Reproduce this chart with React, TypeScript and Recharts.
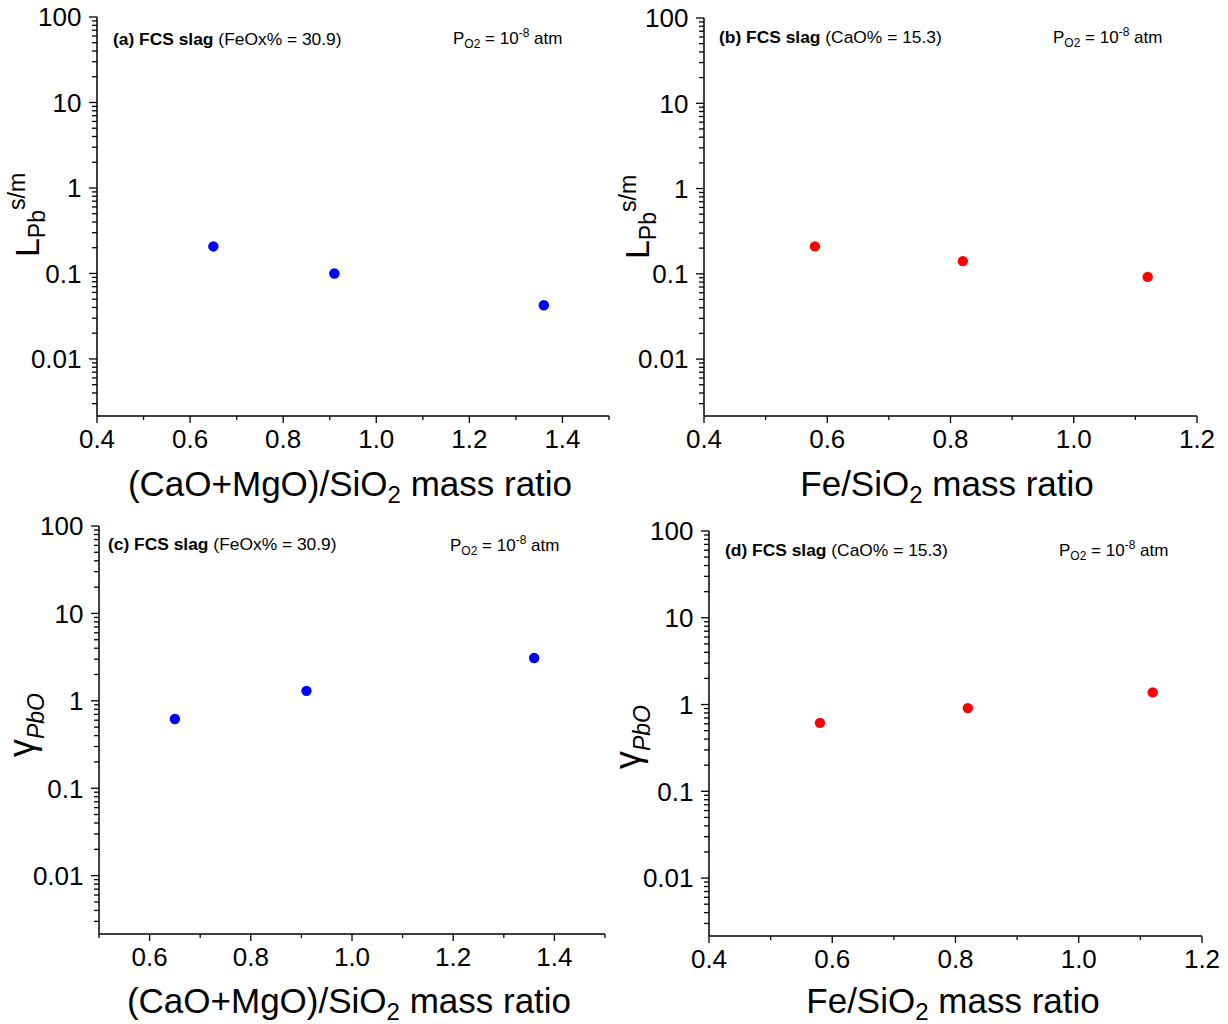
import { ScatterChart, Scatter, XAxis, YAxis } from 'recharts';

// (a) L_Pb vs (CaO+MgO)/SiO2
const basicityA = [0.65, 0.91, 1.36];
const partitionA = [0.207, 0.1, 0.0425];
// (b) L_Pb vs Fe/SiO2
const feRatioB = [0.58, 0.82, 1.12];
const partitionB = [0.21, 0.141, 0.092];
// (c) gamma PbO vs (CaO+MgO)/SiO2
const basicityC = [0.65, 0.91, 1.36];
const gammaC = [0.62, 1.3, 3.09];
// (d) gamma PbO vs Fe/SiO2
const feRatioD = [0.58, 0.82, 1.12];
const gammaD = [0.615, 0.91, 1.38];

const yMajorTicks = [0.01, 0.1, 1, 10, 100];
const yDecades = [0.001, 0.01, 0.1, 1, 10];
const yMinorSteps = [2, 3, 4, 5, 6, 7, 8, 9];
const yDomain: [number, number] = [0.00215, 100];

const xTicksWide = [0.4, 0.5, 0.6, 0.7, 0.8, 0.9, 1.0, 1.1, 1.2, 1.3, 1.4, 1.5];
const xMajorWide = [0.4, 0.6, 0.8, 1.0, 1.2, 1.4];
const xTicksShifted = [0.5, 0.6, 0.7, 0.8, 0.9, 1.0, 1.1, 1.2, 1.3, 1.4, 1.5];
const xMajorShifted = [0.6, 0.8, 1.0, 1.2, 1.4];
const xTicksFe = [0.4, 0.5, 0.6, 0.7, 0.8, 0.9, 1.0, 1.1, 1.2];
const xMajorFe = [0.4, 0.6, 0.8, 1.0, 1.2];

const FONT = '"Liberation Sans", Arial, Helvetica, sans-serif';

const yTicks = [
  ...yDecades.flatMap((d) => yMinorSteps.map((m) => +(d * m).toPrecision(3))),
  ...yMajorTicks,
]
  .filter((v) => v >= yDomain[0] && v <= yDomain[1])
  .sort((a, b) => a - b);

const isOneOf = (v: number, list: number[]) =>
  list.some((m) => Math.abs(v - m) < 1e-9 * Math.max(1, Math.abs(m)));

function YTick(props: any) {
  const { x, y, payload } = props;
  const v = payload.value;
  const major = isOneOf(v, yMajorTicks);
  return (
    <g>
      <line x1={x} x2={x - (major ? 8 : 5)} y1={y} y2={y} stroke="#000" strokeWidth={1.3} />
      {major && (
        <text x={x - 15.5} y={y} dy="0.36em" textAnchor="end" fontSize={26} fontFamily={FONT} fill="#000">
          {String(v)}
        </text>
      )}
    </g>
  );
}

function XTick(props: any) {
  const { x, y, payload, majors } = props;
  const v = payload.value;
  const major = isOneOf(v, majors);
  return (
    <g>
      <line x1={x} x2={x} y1={y} y2={y + (major ? 7 : 4)} stroke="#000" strokeWidth={1.3} />
      {major && (
        <text x={x} y={y + 32} textAnchor="middle" fontSize={26} fontFamily={FONT} fill="#000">
          {v.toFixed(1)}
        </text>
      )}
    </g>
  );
}

type Panel = {
  id: string;
  left: number;
  top: number;
  width: number;
  height: number;
  plot: { left: number; top: number; right: number; bottom: number };
  xs: number[];
  ys: number[];
  color: string;
  xDomain: [number, number];
  xTicks: number[];
  xMajor: number[];
};

const panels: Panel[] = [
  {
    id: 'a', left: 0, top: 0, width: 620, height: 510,
    plot: { left: 97, top: 17, right: 609, bottom: 416 },
    xs: basicityA, ys: partitionA, color: '#0000ff',
    xDomain: [0.4, 1.5], xTicks: xTicksWide, xMajor: xMajorWide,
  },
  {
    id: 'b', left: 610, top: 0, width: 618, height: 510,
    plot: { left: 704, top: 18, right: 1197, bottom: 416 },
    xs: feRatioB, ys: partitionB, color: '#ff0000',
    xDomain: [0.4, 1.2], xTicks: xTicksFe, xMajor: xMajorFe,
  },
  {
    id: 'c', left: 0, top: 510, width: 620, height: 514,
    plot: { left: 99, top: 526, right: 605, bottom: 934 },
    xs: basicityC, ys: gammaC, color: '#0000ff',
    xDomain: [0.5, 1.5], xTicks: xTicksShifted, xMajor: xMajorShifted,
  },
  {
    id: 'd', left: 610, top: 510, width: 618, height: 514,
    plot: { left: 709, top: 531, right: 1202, bottom: 936 },
    xs: feRatioD, ys: gammaD, color: '#ff0000',
    xDomain: [0.4, 1.2], xTicks: xTicksFe, xMajor: xMajorFe,
  },
];

function PanelChart({ p }: { p: Panel }) {
  const data = p.xs.map((x, i) => ({ x, y: p.ys[i] }));
  const yAxisWidth = p.plot.left - p.left;
  const marginTop = p.plot.top - p.top;
  const marginRight = p.left + p.width - p.plot.right;
  const xAxisHeight = p.top + p.height - p.plot.bottom;
  const axisLine = { stroke: '#000', strokeWidth: 1.5 };
  return (
    <div style={{ position: 'absolute', left: p.left, top: p.top, width: p.width, height: p.height }}>
      <ScatterChart
        width={p.width}
        height={p.height}
        margin={{ top: marginTop, right: marginRight, bottom: 0, left: 0 }}
      >
        <XAxis
          xAxisId="main"
          type="number"
          dataKey="x"
          domain={p.xDomain}
          allowDataOverflow
          ticks={p.xTicks}
          interval={0}
          height={xAxisHeight}
          tickLine={false}
          tickSize={0}
          tickMargin={0}
          axisLine={axisLine}
          tick={(tp: any) => <XTick {...tp} majors={p.xMajor} />}
        />
        <XAxis
          xAxisId="frame"
          orientation="top"
          type="number"
          domain={p.xDomain}
          allowDataOverflow
          height={0}
          tick={false}
          tickLine={false}
          axisLine={axisLine}
        />
        <YAxis
          yAxisId="main"
          type="number"
          dataKey="y"
          scale="log"
          domain={yDomain}
          allowDataOverflow
          ticks={yTicks}
          interval={0}
          width={yAxisWidth}
          tickLine={false}
          tickSize={0}
          tickMargin={0}
          axisLine={axisLine}
          tick={(tp: any) => <YTick {...tp} />}
        />
        <YAxis
          yAxisId="frame"
          orientation="right"
          type="number"
          scale="log"
          domain={yDomain}
          allowDataOverflow
          width={0}
          tick={false}
          tickLine={false}
          axisLine={axisLine}
        />
        <Scatter
          xAxisId="main"
          yAxisId="main"
          data={data}
          isAnimationActive={false}
          shape={(sp: any) => <circle cx={sp.cx} cy={sp.cy} r={5.2} fill={p.color} />}
        />
      </ScatterChart>
    </div>
  );
}

function Annotation({ x, y, tag, rest }: { x: number; y: number; tag: string; rest: string }) {
  return (
    <text x={x} y={y} fontSize={17.4} fontFamily={FONT} fill="#000">
      <tspan fontWeight="bold">{tag}</tspan>
      <tspan> {rest}</tspan>
    </text>
  );
}

function Oxygen({ x, y }: { x: number; y: number }) {
  return (
    <text x={x} y={y} fontSize={17} fontFamily={FONT} fill="#000">
      P
      <tspan fontSize={12} dy={4}>O2</tspan>
      <tspan dy={-4}> = 10</tspan>
      <tspan fontSize={12} dy={-7}>-8</tspan>
      <tspan dy={7}> atm</tspan>
    </text>
  );
}

function XTitle({ x, y, lead }: { x: number; y: number; lead: string }) {
  return (
    <text x={x} y={y} textAnchor="middle" fontSize={35} fontFamily={FONT} fill="#000">
      {lead}
      <tspan fontSize={24} dy={7}>2</tspan>
      <tspan dy={-7}> mass ratio</tspan>
    </text>
  );
}

function LTitle({ x, y }: { x: number; y: number }) {
  return (
    <text x={x} y={y} transform={`rotate(-90, ${x}, ${y})`} textAnchor="middle" fontSize={34} fontFamily={FONT} fill="#000">
      L
      <tspan fontSize={23} dy={6.5}>Pb</tspan>
      <tspan fontSize={23} dy={-20}>s/m</tspan>
    </text>
  );
}

function GammaTitle({ x, y }: { x: number; y: number }) {
  return (
    <text x={x} y={y} transform={`rotate(-90, ${x}, ${y})`} textAnchor="middle" fontSize={36} fontFamily={FONT} fill="#000">
      γ
      <tspan fontSize={23} fontStyle="italic" dy={10}>PbO</tspan>
    </text>
  );
}

export default function App() {
  return (
    <div style={{ position: 'absolute', left: 0, top: 0, width: 1228, height: 1024, background: '#fff', fontFamily: FONT }}>
      {panels.map((p) => (
        <PanelChart key={p.id} p={p} />
      ))}
      <svg
        width={1228}
        height={1024}
        style={{ position: 'absolute', left: 0, top: 0, pointerEvents: 'none' }}
      >
        <Annotation x={113} y={45} tag="(a) FCS slag" rest="(FeOx% = 30.9)" />
        <Oxygen x={453} y={44} />
        <Annotation x={719} y={43} tag="(b) FCS slag" rest="(CaO% = 15.3)" />
        <Oxygen x={1053} y={43} />
        <Annotation x={108} y={550} tag="(c) FCS slag" rest="(FeOx% = 30.9)" />
        <Oxygen x={450} y={551} />
        <Annotation x={725} y={556} tag="(d) FCS slag" rest="(CaO% = 15.3)" />
        <Oxygen x={1059} y={556} />

        <XTitle x={350} y={496} lead="(CaO+MgO)/SiO" />
        <XTitle x={947} y={496} lead="Fe/SiO" />
        <XTitle x={349} y={1013} lead="(CaO+MgO)/SiO" />
        <XTitle x={953} y={1013} lead="Fe/SiO" />

        <LTitle x={38.5} y={215} />
        <LTitle x={649} y={217} />
        <GammaTitle x={34.4} y={725} />
        <GammaTitle x={640} y={737} />
      </svg>
    </div>
  );
}
